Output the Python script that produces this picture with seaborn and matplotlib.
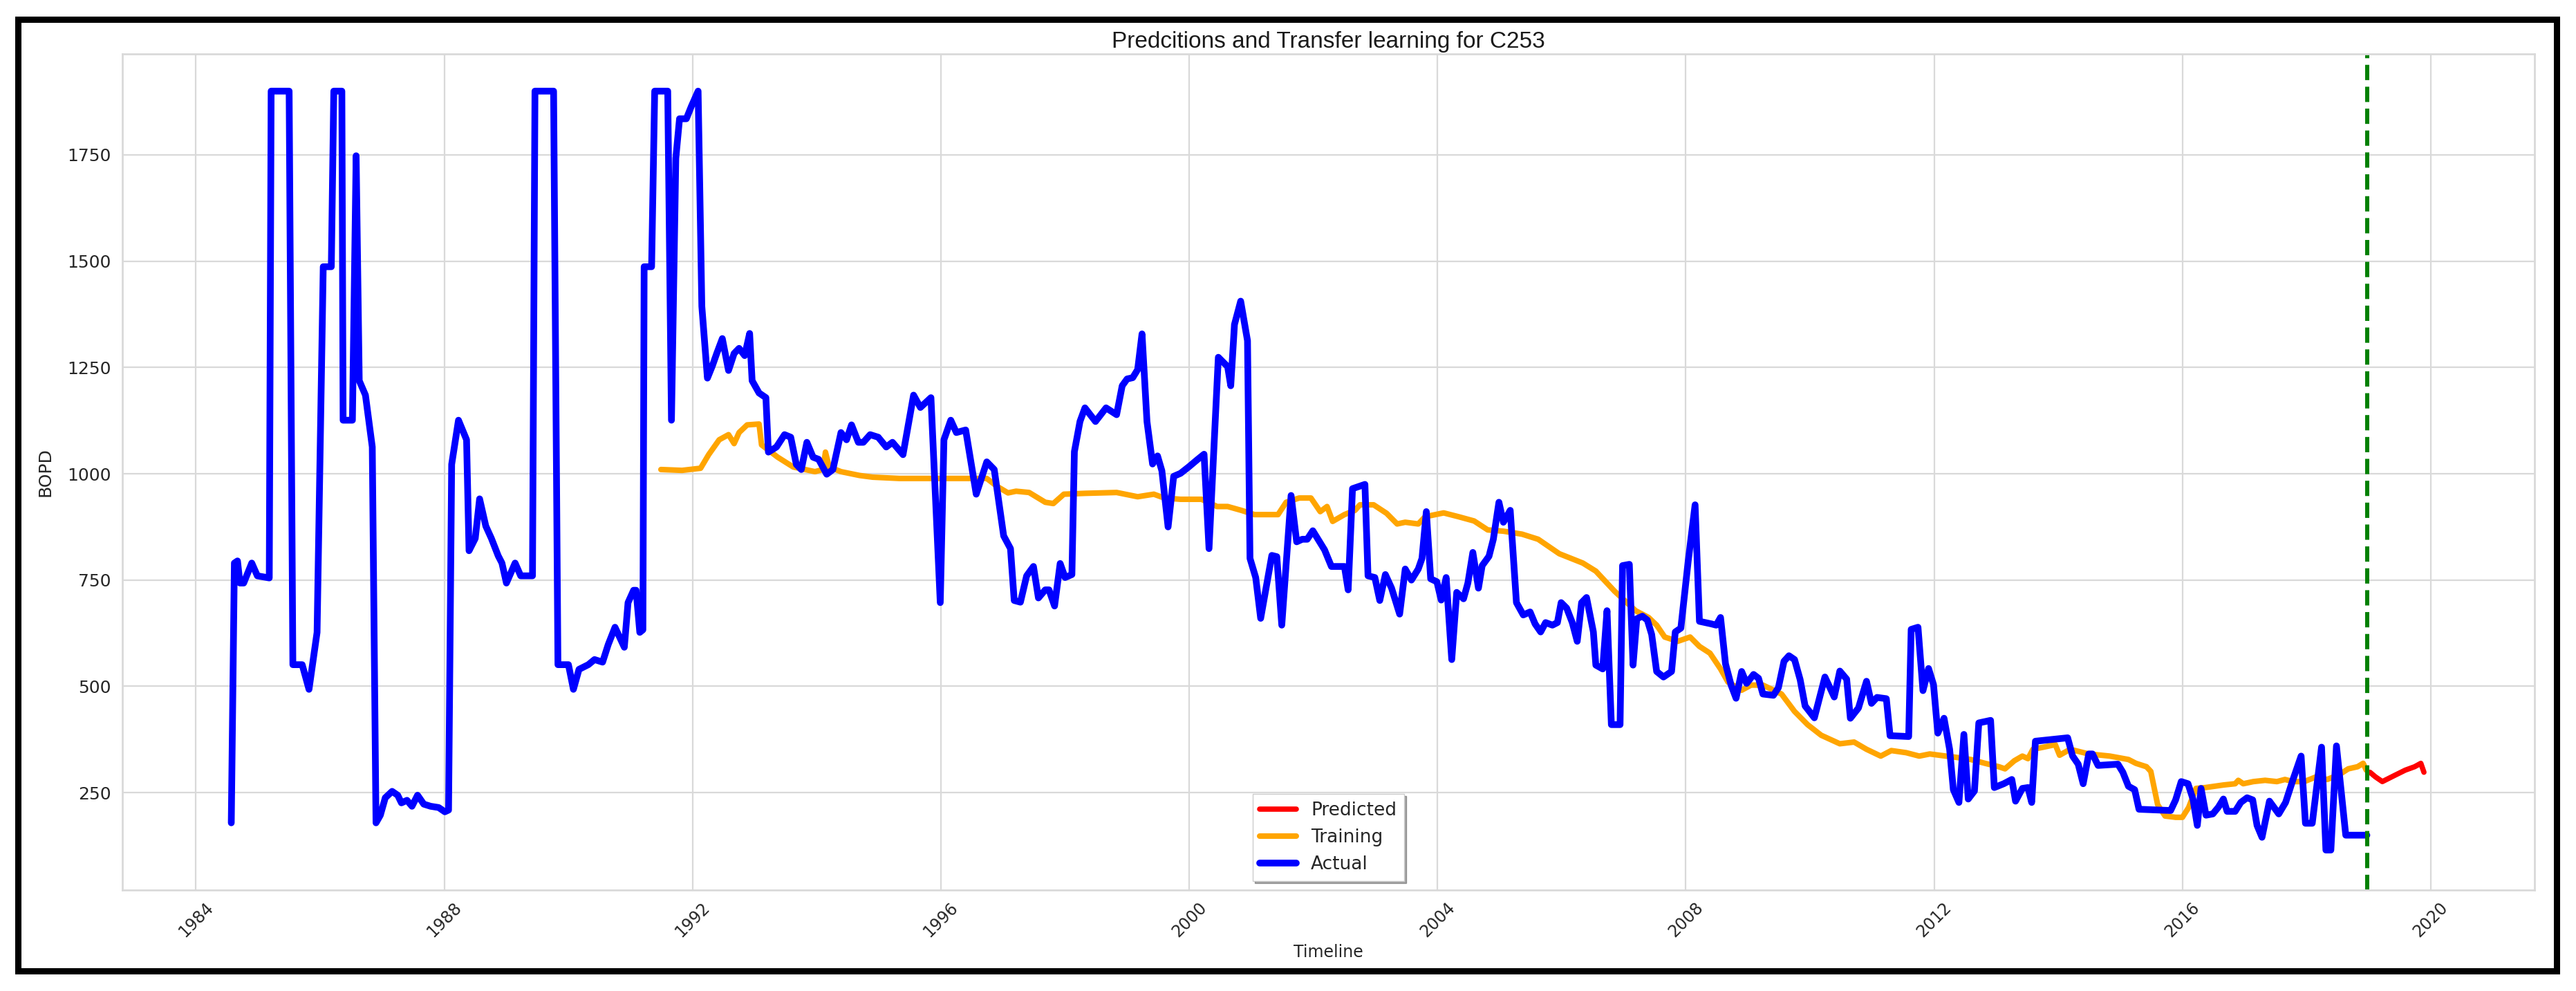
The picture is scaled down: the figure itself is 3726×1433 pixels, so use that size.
import pandas as pd
import matplotlib
matplotlib.use("Agg")
import matplotlib.pyplot as plt
import matplotlib.dates as mdates
from matplotlib.patches import Rectangle
import seaborn as sns

# Values (decimal years, BOPD)
actual_years = [
    1984.57, 1984.62, 1984.67, 1984.71, 1984.77, 1984.90, 1984.99, 1985.18, 1985.21, 1985.50,
    1985.56, 1985.71, 1985.82, 1985.95, 1986.05, 1986.18, 1986.22, 1986.35, 1986.37, 1986.52,
    1986.58, 1986.63, 1986.73, 1986.84, 1986.90, 1986.97, 1987.05, 1987.16, 1987.25, 1987.31,
    1987.40, 1987.48, 1987.57, 1987.67, 1987.78, 1987.91, 1988.01, 1988.07, 1988.12, 1988.23,
    1988.36, 1988.40, 1988.50, 1988.57, 1988.67, 1988.76, 1988.87, 1988.93, 1989.00, 1989.14,
    1989.23, 1989.42, 1989.46, 1989.76, 1989.83, 1990.00, 1990.08, 1990.17, 1990.32, 1990.42,
    1990.55, 1990.64, 1990.75, 1990.90, 1990.96, 1991.05, 1991.09, 1991.15, 1991.20, 1991.22,
    1991.34, 1991.39, 1991.60, 1991.66, 1991.73, 1991.79, 1991.90, 1991.98, 1992.09, 1992.15,
    1992.24, 1992.32, 1992.39, 1992.48, 1992.58, 1992.67, 1992.75, 1992.84, 1992.92, 1992.96,
    1993.07, 1993.18, 1993.22, 1993.35, 1993.48, 1993.58, 1993.67, 1993.75, 1993.84, 1993.94,
    1994.03, 1994.16, 1994.26, 1994.39, 1994.48, 1994.56, 1994.67, 1994.75, 1994.86, 1994.99,
    1995.12, 1995.22, 1995.39, 1995.56, 1995.67, 1995.84, 1995.99, 1996.05, 1996.16, 1996.25,
    1996.40, 1996.57, 1996.74, 1996.86, 1997.01, 1997.12, 1997.18, 1997.28, 1997.38, 1997.49,
    1997.57, 1997.68, 1997.74, 1997.83, 1997.92, 1998.00, 1998.11, 1998.15, 1998.24, 1998.32,
    1998.49, 1998.66, 1998.83, 1998.92, 1999.00, 1999.09, 1999.17, 1999.24, 1999.32, 1999.41,
    1999.49, 1999.56, 1999.66, 1999.75, 1999.86, 2000.00, 2000.13, 2000.24, 2000.32, 2000.47,
    2000.62, 2000.67, 2000.73, 2000.83, 2000.94, 2000.98, 2001.07, 2001.15, 2001.33, 2001.41,
    2001.49, 2001.64, 2001.73, 2001.82, 2001.90, 2001.99, 2002.18, 2002.29, 2002.50, 2002.56,
    2002.63, 2002.83, 2002.88, 2002.99, 2003.07, 2003.16, 2003.26, 2003.39, 2003.48, 2003.58,
    2003.69, 2003.75, 2003.82, 2003.89, 2003.99, 2004.06, 2004.14, 2004.23, 2004.31, 2004.42,
    2004.49, 2004.57, 2004.66, 2004.72, 2004.83, 2004.90, 2004.99, 2005.06, 2005.17, 2005.27,
    2005.38, 2005.49, 2005.57, 2005.66, 2005.74, 2005.85, 2005.93, 2005.99, 2006.08, 2006.17,
    2006.25, 2006.32, 2006.40, 2006.51, 2006.55, 2006.66, 2006.73, 2006.80, 2006.94, 2006.98,
    2007.09, 2007.15, 2007.21, 2007.30, 2007.38, 2007.45, 2007.53, 2007.64, 2007.77, 2007.83,
    2007.92, 2008.04, 2008.15, 2008.22, 2008.41, 2008.49, 2008.56, 2008.64, 2008.73, 2008.81,
    2008.90, 2008.98, 2009.09, 2009.17, 2009.24, 2009.41, 2009.49, 2009.58, 2009.66, 2009.75,
    2009.84, 2009.92, 2010.07, 2010.24, 2010.39, 2010.48, 2010.59, 2010.65, 2010.78, 2010.91,
    2010.99, 2011.08, 2011.23, 2011.29, 2011.59, 2011.63, 2011.74, 2011.82, 2011.91, 2011.99,
    2012.06, 2012.16, 2012.25, 2012.31, 2012.40, 2012.48, 2012.55, 2012.65, 2012.72, 2012.91,
    2012.97, 2013.12, 2013.25, 2013.31, 2013.42, 2013.51, 2013.57, 2013.63, 2014.15, 2014.23,
    2014.32, 2014.40, 2014.49, 2014.55, 2014.64, 2014.96, 2015.04, 2015.13, 2015.23, 2015.30,
    2015.81, 2015.89, 2015.98, 2016.09, 2016.17, 2016.24, 2016.30, 2016.38, 2016.49, 2016.58,
    2016.66, 2016.72, 2016.85, 2016.94, 2017.04, 2017.13, 2017.20, 2017.28, 2017.40, 2017.55,
    2017.66, 2017.78, 2017.91, 2017.98, 2018.09, 2018.24, 2018.31, 2018.39, 2018.48, 2018.63,
    2018.97,
]
actual_bopd = [
    179, 790, 795, 743, 743, 790, 760, 755, 1900, 1900,
    551, 551, 493, 627, 1487, 1487, 1900, 1900, 1126, 1126,
    1748, 1219, 1185, 1063, 179, 197, 238, 253, 244, 226,
    232, 218, 244, 223, 218, 215, 205, 209, 1022, 1126,
    1080, 819, 848, 941, 877, 848, 807, 790, 743, 790,
    760, 760, 1900, 1900, 551, 551, 493, 540, 551, 563,
    557, 598, 639, 592, 697, 726, 726, 627, 633, 1487,
    1487, 1900, 1900, 1126, 1742, 1835, 1835, 1864, 1900, 1394,
    1225, 1254, 1283, 1318, 1243, 1283, 1295, 1278, 1330, 1219,
    1190, 1179, 1051, 1063, 1092, 1086, 1022, 1010, 1074, 1039,
    1034, 999, 1010, 1097, 1080, 1115, 1074, 1074, 1092, 1086,
    1063, 1074, 1045, 1185, 1156, 1179, 697, 1080, 1126, 1097,
    1103, 952, 1028, 1010, 854, 824, 702, 698, 760, 782,
    708, 727, 727, 689, 789, 756, 763, 1052, 1123, 1155,
    1123, 1155, 1139, 1207, 1223, 1226, 1245, 1329, 1123, 1023,
    1042, 1007, 875, 994, 1001, 1017, 1033, 1046, 824, 1274,
    1252, 1207, 1351, 1406, 1313, 801, 756, 660, 808, 805,
    644, 949, 840, 846, 846, 866, 821, 782, 782, 727,
    965, 975, 760, 756, 702, 763, 731, 670, 776, 750,
    776, 801, 911, 753, 746, 703, 756, 563, 721, 706,
    743, 815, 731, 784, 806, 846, 933, 886, 914, 697,
    668, 675, 647, 628, 650, 644, 650, 697, 684, 650,
    606, 697, 709, 628, 550, 541, 678, 410, 410, 784,
    787, 550, 659, 665, 656, 622, 535, 522, 535, 628,
    637, 796, 927, 653, 647, 644, 662, 553, 503, 472,
    535, 507, 528, 519, 482, 479, 497, 559, 572, 563,
    516, 454, 426, 522, 475, 536, 517, 425, 449, 512,
    460, 474, 471, 384, 382, 634, 639, 490, 542, 504,
    390, 425, 352, 257, 227, 387, 235, 254, 414, 420,
    262, 271, 281, 230, 260, 262, 227, 371, 379, 336,
    317, 271, 341, 341, 314, 317, 298, 265, 257, 211,
    208, 233, 276, 271, 235, 173, 260, 197, 200, 216,
    235, 206, 206, 227, 238, 233, 173, 145, 230, 200,
    227, 281, 336, 178, 178, 357, 115, 115, 360, 150,
    150,
]

training_years = [
    1991.49, 1991.83, 1992.13, 1992.26, 1992.43, 1992.58, 1992.67, 1992.75, 1992.88, 1993.07,
    1993.11, 1993.37, 1993.62, 1993.97, 1994.10, 1994.14, 1994.20, 1994.39, 1994.69, 1994.90,
    1995.33, 1995.97, 1996.74, 1996.91, 1997.08, 1997.21, 1997.42, 1997.68, 1997.81, 1997.98,
    1998.32, 1998.83, 1999.17, 1999.43, 1999.60, 1999.86, 2000.20, 2000.45, 2000.62, 2000.84,
    2001.05, 2001.43, 2001.56, 2001.77, 2001.96, 2002.11, 2002.22, 2002.31, 2002.50, 2002.67,
    2002.75, 2002.97, 2003.18, 2003.35, 2003.48, 2003.69, 2003.80, 2004.10, 2004.34, 2004.59,
    2004.81, 2005.06, 2005.36, 2005.62, 2005.96, 2006.34, 2006.55, 2006.85, 2007.19, 2007.40,
    2007.53, 2007.66, 2007.87, 2008.07, 2008.22, 2008.39, 2008.56, 2008.68, 2008.90, 2009.05,
    2009.24, 2009.54, 2009.75, 2009.96, 2010.18, 2010.48, 2010.71, 2010.91, 2011.14, 2011.31,
    2011.55, 2011.76, 2011.93, 2012.19, 2012.36, 2012.59, 2012.82, 2013.04, 2013.14, 2013.29,
    2013.42, 2013.51, 2013.59, 2013.76, 2013.95, 2014.02, 2014.19, 2014.49, 2014.83, 2015.13,
    2015.25, 2015.42, 2015.49, 2015.60, 2015.72, 2015.89, 2016.00, 2016.10, 2016.22, 2016.37,
    2016.66, 2016.85, 2016.90, 2016.98, 2017.14, 2017.33, 2017.52, 2017.65, 2017.78, 2017.96,
    2018.15, 2018.33, 2018.52, 2018.67, 2018.82, 2018.91, 2018.96,
]
training_bopd = [
    1010, 1008, 1013, 1045, 1080, 1092, 1071, 1097, 1115, 1117,
    1068, 1039, 1016, 1005, 1010, 1051, 1016, 1005, 996, 992,
    989, 989, 989, 970, 955, 959, 956, 933, 930, 952,
    954, 956, 946, 952, 943, 940, 940, 923, 923, 914,
    904, 904, 933, 943, 943, 911, 923, 888, 904, 914,
    927, 927, 907, 882, 886, 882, 899, 908, 899, 889,
    868, 865, 858, 846, 812, 790, 771, 724, 678, 662,
    644, 616, 606, 616, 594, 578, 541, 510, 491, 503,
    503, 482, 441, 410, 385, 365, 369, 352, 336, 349,
    344, 336, 341, 336, 333, 328, 319, 311, 306, 325,
    336, 330, 352, 357, 363, 338, 352, 341, 336, 328,
    319, 311, 300, 222, 195, 192, 192, 215, 260, 262,
    268, 271, 279, 271, 276, 279, 276, 281, 276, 276,
    287, 281, 292, 306, 311, 319, 303,
]

predicted_years = [2019.02, 2019.11, 2019.22, 2019.41, 2019.59, 2019.74, 2019.84, 2019.89]
predicted_bopd = [298, 287, 276, 290, 303, 311, 319, 298]

split_year = 2018.97
x_range = (1982.81, 2021.67)
y_range = (21, 1988)


def to_dates(years):
    out = []
    for y in years:
        base = int(y)
        out.append(pd.Timestamp(year=base, month=1, day=1) + pd.Timedelta(days=(y - base) * 365.25))
    return pd.to_datetime(out)


sns.set_style("whitegrid", {"grid.color": ".85", "axes.edgecolor": ".85"})
plt.rcParams["font.family"] = ["DejaVu Sans"]

fig = plt.figure(figsize=(37.26, 14.33), dpi=100)
ax = fig.add_axes([0.0474, 0.1019, 0.9365, 0.8439])

sns.lineplot(x=to_dates(predicted_years), y=predicted_bopd, color="red", linewidth=5.5,
             label="Predicted", ax=ax, estimator=None, sort=False)
sns.lineplot(x=to_dates(training_years), y=training_bopd, color="orange", linewidth=5.8,
             label="Training", ax=ax, estimator=None, sort=False)
sns.lineplot(x=to_dates(actual_years), y=actual_bopd, color="blue", linewidth=7,
             label="Actual", ax=ax, estimator=None, sort=False)
ax.axvline(to_dates([split_year])[0], color="green", linestyle="--", linewidth=4.3)

x0, x1 = to_dates(list(x_range))
ax.set_xlim(x0, x1)
ax.set_ylim(*y_range)
ax.set_yticks([250, 500, 750, 1000, 1250, 1500, 1750])
ax.xaxis.set_major_locator(mdates.YearLocator(4))
ax.xaxis.set_major_formatter(mdates.DateFormatter("%Y"))
ax.grid(True, linewidth=1.6)
for s in ax.spines.values():
    s.set_linewidth(2)

ax.tick_params(axis="y", labelsize=18, pad=8)
ax.tick_params(axis="x", labelsize=17, pad=6)
plt.setp(ax.get_xticklabels(), rotation=45)

ax.set_title("Predcitions and Transfer learning for C253", fontsize=24,
             fontfamily=["Liberation Sans", "DejaVu Sans"], color="0.1")
ax.set_xlabel("Timeline", fontsize=17, labelpad=4)
ax.set_ylabel("BOPD", fontsize=18, labelpad=14)

leg = ax.legend(loc="lower center", fontsize=19, frameon=True, shadow=True, fancybox=False)
leg.get_frame().set_edgecolor("0.8")

# black frame round the whole picture
fig.patches.append(Rectangle((0.0071, 0.0199), 0.9855, 0.9609, transform=fig.transFigure,
                             fill=False, linewidth=6.5, edgecolor="black"))

fig.savefig("out.png", dpi=100)
